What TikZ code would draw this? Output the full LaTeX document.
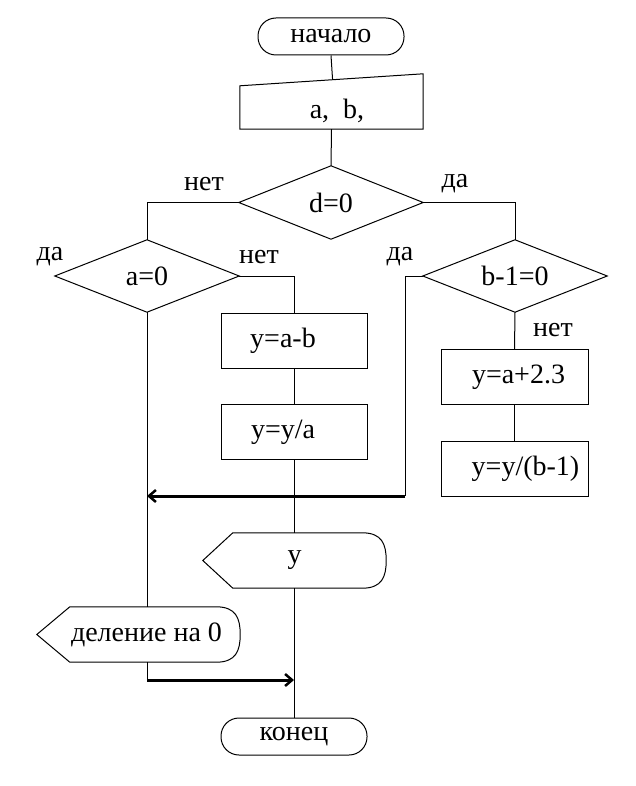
\documentclass[tikz,border=0pt]{standalone}
\usepackage{fontspec}
\setmainfont{Liberation Serif}
\usetikzlibrary{calc,arrows.meta}
\tikzset{
  flow/.style={line width=1pt},
  back/.style={line width=3pt, -{Straight Barb[length=7pt,width=12pt,line width=2.5pt]}},
  boxst/.style={draw, line width=1pt, minimum height=55pt, minimum width=#1, inner sep=0pt},
  term/.style={draw, line width=1pt, rounded corners=18pt, minimum width=146pt, minimum height=37pt, inner sep=0pt},
  holder/.style 2 args={minimum width=#1, minimum height=#2, inner sep=0pt},
  lbl/.style={inner sep=0pt},
}
\begin{document}
\begin{tikzpicture}[x=1pt,y=-1pt,font=\fontsize{28}{31}\selectfont]
\useasboundingbox (0,0) rectangle (636,786);
% terminators
\node[term] (start) at (331,36.5) {начало};
\node[term] (end) at (294,736.5) {конец};
% manual input
\node[holder={183pt}{55pt}] (inp) at (331.5,101.5) {};
\draw[flow] ($(inp.north west)+(0,12)$) coordinate (inptl) -- (inp.north east) -- (inp.south east) -- (inp.south west) -- cycle;
\node[lbl, anchor=base] (inpt) at (337,119) {a,\ \ b,};
% decisions
\node[holder={184pt}{73pt}] (d0) at (331,202.5) {d=0};
\draw[flow] (d0.north) -- (d0.east) -- (d0.south) -- (d0.west) -- cycle;
\node[holder={184pt}{72pt}] (a0) at (147,276) {a=0};
\draw[flow] (a0.north) -- (a0.east) -- (a0.south) -- (a0.west) -- cycle;
\node[holder={184pt}{72pt}] (b1) at (515,276) {b-1=0};
\draw[flow] (b1.north) -- (b1.east) -- (b1.south) -- (b1.west) -- cycle;
% process boxes
\node[boxst=146pt, label={[xshift=-11pt]center:y=a-b}] (r1) at (294,340.5) {};
\node[boxst=146pt, label={[xshift=-11pt]center:y=y/a}] (r2) at (294,432) {};
\node[boxst=147pt, label={[xshift=4pt]center:y=a+2.3}] (r3) at (514.5,377) {};
\node[boxst=147pt, label={[xshift=11pt]center:y=y/(b-1)}] (r4) at (514.5,468.5) {};
% displays
\node[holder={183pt}{55pt}] (outy) at (294.5,560.5) {y};
\draw[flow] (outy.west) -- ($(outy.north west)+(30,0)$) -- ($(outy.north east)+(-24,0)$)
  .. controls ($(outy.north east)+(-4,0)$) and ($(outy.east)+(0,-16)$) .. (outy.east)
  .. controls ($(outy.east)+(0,16)$) and ($(outy.south east)+(-4,0)$) .. ($(outy.south east)+(-24,0)$)
  -- ($(outy.south west)+(30,0)$) -- cycle;
\node[holder={203pt}{55pt}, label={[xshift=8pt]center:деление на 0}] (outd) at (138.5,634.5) {};
\draw[flow] (outd.west) -- ($(outd.north west)+(33,0)$) -- ($(outd.north east)+(-24,0)$)
  .. controls ($(outd.north east)+(-4,0)$) and ($(outd.east)+(0,-16)$) .. (outd.east)
  .. controls ($(outd.east)+(0,16)$) and ($(outd.south east)+(-4,0)$) .. ($(outd.south east)+(-24,0)$)
  -- ($(outd.south west)+(33,0)$) -- cycle;
% branch labels
\node[lbl] (l1) at (204,184) {нет};
\node[lbl] (l2) at (455,184) {да};
\node[lbl] (l3) at (50,257) {да};
\node[lbl] (l4) at (259,257) {нет};
\node[lbl] (l5) at (400,257) {да};
\node[lbl] (l6) at (553,330) {нет};
% connectors
\draw[flow] (start.south) -- ($(inptl)!(start.south)!(inp.north east)$);
\draw[flow] (inp.south) -- (d0.north);
\draw[flow] (d0.west) -| (a0.north);
\draw[flow] (d0.east) -| (b1.north);
\draw[flow] (a0.east) -| (r1.north);
\draw[flow] (r1.south) -- (r2.north);
\draw[flow] (r2.south) -- (r2.south |- outy.north);
\draw[flow] (r2.south |- outy.south) -- (end.north);
\draw[flow] (a0.south) -- (a0.south |- outd.north);
\draw[flow] (b1.south) -- (r3.north);
\draw[flow] (r3.south) -- (r4.north);
\coordinate (bj) at (405,496);
\draw[flow] (b1.west) -| (bj);
\draw[back] (bj) -- (bj -| a0.south);
\coordinate (dj) at (147,680);
\draw[flow] (a0.south |- outd.south) -- (dj);
\draw[back] (dj) -- (dj -| end.north);
\end{tikzpicture}
\end{document}
